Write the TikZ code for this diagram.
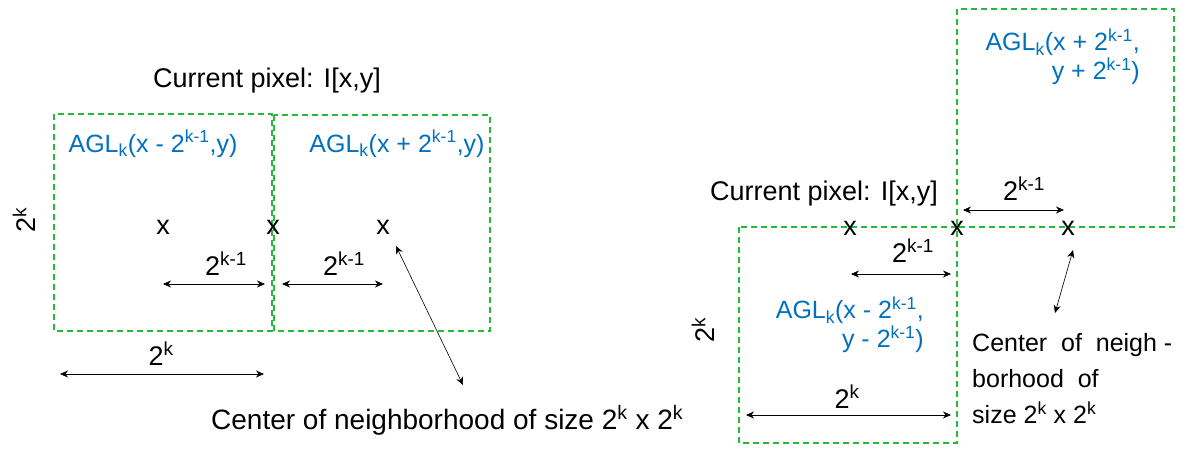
\documentclass[tikz,border=0pt]{standalone}
\usepackage{fontspec}
\setmainfont{Liberation Sans}
\usetikzlibrary{arrows.meta,positioning}
\definecolor{boxgreen}{RGB}{40,185,60}
\definecolor{aglblue}{RGB}{0,112,192}
\newcommand{\sps}[1]{\textsuperscript{#1}}
\newcommand{\sbs}[1]{\textsubscript{#1}}

\begin{document}
\begin{tikzpicture}[x=1pt, y=-1pt,
  box/.style={draw=boxgreen, dash pattern=on 6pt off 4pt, line width=1.2pt},
  agl/.style={text=aglblue, font=\fontsize{25}{29}\selectfont, inner sep=0pt},
  lbl/.style={font=\fontsize{27}{32}\selectfont, inner sep=0pt},
  xmark/.style={font=\fontsize{27}{32}\selectfont, inner sep=0pt},
  dim/.style={{Stealth[length=8pt,width=7pt]}-{Stealth[length=8pt,width=7pt]}, line width=0.6pt}
]
  \useasboundingbox (0,0) rectangle (1195,448);

  % left: horizontal neighbours
  \draw[box] (54,114) rectangle (272,331);
  \draw[box] (274,115) rectangle (490,331);
  \node[lbl, anchor=base] (curl) at (267,87) {Current pixel: I[x,y]};
  \node[agl, anchor=base] (aglw) at (153,152) {AGL\sbs{k}(x - 2\sps{k-1},y)};
  \node[agl, anchor=base] (agle) at (397,152) {AGL\sbs{k}(x + 2\sps{k-1},y)};
  \node[lbl, rotate=90] (sidel) at (24,220) {2\sps{k}};
  \node[xmark] (xw) at (163,227) {x};
  \node[xmark] (xc) at (273,227) {x};
  \node[xmark] (xe) at (383,227) {x};
  \node[lbl, anchor=base] (hw) at (226,275) {2\sps{k-1}};
  \node[lbl, anchor=base] (he) at (344,275) {2\sps{k-1}};
  \coordinate (hw1) at (163,284); \coordinate (hw2) at (265,284);
  \coordinate (he1) at (282,284); \coordinate (he2) at (383,284);
  \draw[dim] (hw1) -- (hw2);
  \draw[dim] (he1) -- (he2);
  \node[lbl, anchor=base] (fulll) at (161,365) {2\sps{k}};
  \coordinate (fl1) at (60,374); \coordinate (fl2) at (264,374);
  \draw[dim] (fl1) -- (fl2);
  \coordinate (pe1) at (396,246); \coordinate (pe2) at (463,385);
  \draw[dim] (pe1) -- (pe2);
  \node[lbl, font=\fontsize{28}{32}\selectfont, anchor=base west] (ctrl) at (211,429)
    {Center of neighborhood of size 2\sps{k} x 2\sps{k}};

  % right: diagonal neighbours
  \draw[box] (957,9) rectangle (1174,227);
  \draw[box] (739,227) rectangle (957,443);
  \node[agl, align=right, anchor=north east] (aglne) at (1140,29)
    {AGL\sbs{k}(x + 2\sps{k-1},\\y + 2\sps{k-1})};
  \node[lbl, anchor=base] (curr) at (824,200) {Current pixel: I[x,y]};
  \node[lbl, anchor=base] (hne) at (1024,200) {2\sps{k-1}};
  \coordinate (hn1) at (963,210); \coordinate (hn2) at (1064,210);
  \draw[dim] (hn1) -- (hn2);
  \node[xmark] (xsw) at (850,228) {x};
  \node[xmark] (xcr) at (957,228) {x};
  \node[xmark] (xne) at (1068,228) {x};
  \node[lbl, anchor=base] (hsw) at (913,262) {2\sps{k-1}};
  \coordinate (hs1) at (851,274); \coordinate (hs2) at (951,274);
  \draw[dim] (hs1) -- (hs2);
  \node[agl, align=right, anchor=north east] (aglsw) at (924,297)
    {AGL\sbs{k}(x - 2\sps{k-1},\\y - 2\sps{k-1})};
  \node[lbl, rotate=90] (sider) at (703,330) {2\sps{k}};
  \node[lbl, anchor=base] (fullr) at (847,408) {2\sps{k}};
  \coordinate (fr1) at (746,415); \coordinate (fr2) at (951,415);
  \draw[dim] (fr1) -- (fr2);
  \coordinate (pn1) at (1073,250); \coordinate (pn2) at (1055,313);
  \draw[dim] (pn1) -- (pn2);
  \node[lbl, font=\fontsize{25}{36}\selectfont, align=left, anchor=north west] (ctrr) at (972,333)
    {Center~ of~ neigh -\\borhood~ of\\size 2\sps{k} x 2\sps{k}};
\end{tikzpicture}
\end{document}
